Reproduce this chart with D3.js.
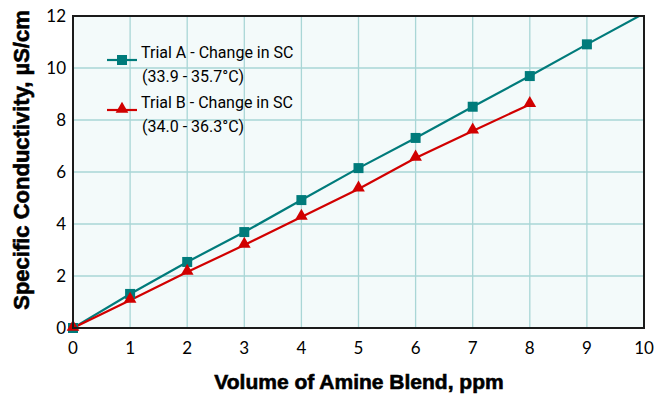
<!DOCTYPE html>
<html>
<head>
<meta charset="utf-8">
<script src="https://cdn.jsdelivr.net/npm/d3@7"></script>
<style>
  body { margin: 0; background: #fff; }
  svg { display: block; }
</style>
</head>
<body>
<div id="chart"></div>
<script>
var doses = [0, 1, 2, 3, 4, 5, 6, 7, 8, 9];
var trialA = [0, 1.31, 2.54, 3.69, 4.92, 6.15, 7.31, 8.51, 9.69, 10.91];
var trialB = [0, 1.07, 2.15, 3.19, 4.27, 5.35, 6.54, 7.58, 8.6];
// Trial A's line runs on past the last marker to the edge of the plot
var trialAEnd = [10, 12.1];
var xTicks = [0, 1, 2, 3, 4, 5, 6, 7, 8, 9, 10];
var yTicks = [0, 2, 4, 6, 8, 10, 12];
var seriesNames = ["Trial A - Change in SC", "Trial B - Change in SC"];
var seriesRanges = ["(33.9 - 35.7\u00b0C)", "(34.0 - 36.3\u00b0C)"];

(function () {
  var width = 665,
    height = 394;
  var margin = { left: 73, right: 21, top: 16, bottom: 66 };
  var teal = "#007b7b", red = "#d10000";

  var svg = d3.select("#chart")
    .append("svg")
    .attr("width", width)
    .attr("height", height);

  var x = d3.scaleLinear().domain([0, 10]).range([margin.left, width - margin.right]);
  var y = d3.scaleLinear().domain([0, 12]).range([height - margin.bottom, margin.top]);

  svg.append("clipPath").attr("id", "plot")
    .append("rect")
    .attr("x", x(0)).attr("y", y(12))
    .attr("width", x(10) - x(0)).attr("height", y(0) - y(12));

  svg.append("rect")
    .attr("x", x(0)).attr("y", y(12))
    .attr("width", x(10) - x(0)).attr("height", y(0) - y(12))
    .attr("fill", "#f3fafa");

  // grid
  svg.append("g")
    .selectAll("line")
    .data(xTicks.slice(1, -1))
    .enter().append("line")
    .attr("x1", d => x(d)).attr("x2", d => x(d))
    .attr("y1", y(12)).attr("y2", y(0))
    .attr("stroke", "#a9d6d6").attr("stroke-width", 1.3);
  svg.append("g")
    .selectAll("line")
    .data(yTicks.slice(1, -1))
    .enter().append("line")
    .attr("x1", x(0)).attr("x2", x(10))
    .attr("y1", d => y(d)).attr("y2", d => y(d))
    .attr("stroke", "#a9d6d6").attr("stroke-width", 1.3);

  var line = d3.line().x(d => x(d[0])).y(d => y(d[1]));
  var ptsA = doses.map((d, i) => [d, trialA[i]]);
  var ptsB = trialB.map((v, i) => [doses[i], v]);

  var g = svg.append("g").attr("clip-path", "url(#plot)");
  g.append("path").datum(ptsA.concat([trialAEnd]))
    .attr("d", line).attr("fill", "none").attr("stroke", teal).attr("stroke-width", 2.2);
  g.append("path").datum(ptsB)
    .attr("d", line).attr("fill", "none").attr("stroke", red).attr("stroke-width", 2.2);

  var sq = d3.symbol().type(d3.symbolSquare).size(100);
  var tri = d3.symbol().type(d3.symbolTriangle).size(70);

  svg.append("g").selectAll("path")
    .data(ptsA)
    .enter().append("path")
    .attr("d", sq)
    .attr("transform", d => "translate(" + x(d[0]) + "," + y(d[1]) + ")")
    .attr("fill", teal);
  svg.append("g").selectAll("path")
    .data(ptsB)
    .enter().append("path")
    .attr("d", tri)
    .attr("transform", d => "translate(" + x(d[0]) + "," + (y(d[1]) - 1) + ")")
    .attr("fill", red);

  // frame
  svg.append("rect")
    .attr("x", x(0)).attr("y", y(12))
    .attr("width", x(10) - x(0)).attr("height", y(0) - y(12))
    .attr("fill", "none").attr("stroke", "#1a1a1a").attr("stroke-width", 2);

  // tick labels
  svg.append("g").selectAll("text")
    .data(xTicks)
    .enter().append("text")
    .attr("x", d => x(d)).attr("y", y(0) + 26)
    .attr("text-anchor", "middle")
    .style("font-family", "Lato, 'Open Sans', sans-serif")
    .style("font-size", "17px")
    .text(d => d);
  svg.append("g").selectAll("text")
    .data(yTicks)
    .enter().append("text")
    .attr("x", x(0) - 7).attr("y", d => y(d) + 6)
    .attr("text-anchor", "end")
    .style("font-family", "Lato, 'Open Sans', sans-serif")
    .style("font-size", "17px")
    .text(d => d);

  // axis titles
  svg.append("text")
    .attr("x", 359).attr("y", 389)
    .attr("text-anchor", "middle")
    .style("font-family", "'Liberation Sans', Arial, sans-serif")
    .style("font-weight", "bold")
    .style("font-size", "21px")
    .attr("stroke", "#000").attr("stroke-width", 0.6)
    .text("Volume of Amine Blend, ppm");
  svg.append("text")
    .attr("transform", "translate(29,160) rotate(-90)")
    .attr("text-anchor", "middle")
    .style("font-family", "'Liberation Sans', Arial, sans-serif")
    .style("font-weight", "bold")
    .style("font-size", "22px")
    .attr("stroke", "#000").attr("stroke-width", 0.6)
    .text("Specific Conductivity, \u00b5S/cm");

  // legend
  var legend = svg.append("g").selectAll("g")
    .data(seriesNames)
    .enter().append("g")
    .attr("transform", (d, i) => "translate(107," + (60 + i * 50) + ")");
  legend.append("line")
    .attr("x1", 0).attr("x2", 30)
    .attr("stroke", (d, i) => i ? red : teal).attr("stroke-width", 2.2);
  legend.append("path")
    .attr("d", (d, i) => i ? tri() : sq())
    .attr("transform", (d, i) => "translate(15," + (i ? -1 : 0) + ")")
    .attr("fill", (d, i) => i ? red : teal);
  legend.append("text")
    .attr("x", 34).attr("y", -2)
    .style("font-family", "Roboto, sans-serif")
    .style("font-size", "16px")
    .text(d => d);
  legend.append("text")
    .attr("x", 35).attr("y", 22)
    .style("font-family", "Roboto, sans-serif")
    .style("font-size", "16px")
    .text((d, i) => seriesRanges[i]);
})();
</script>
</body>
</html>
